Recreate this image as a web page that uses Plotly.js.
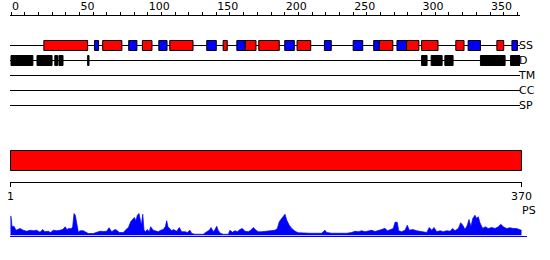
<!DOCTYPE html>
<html>
<head>
<meta charset="utf-8">
<script src="https://cdn.plot.ly/plotly-3.0.1.min.js"></script>
<style>html,body{margin:0;padding:0;background:#fff}#chart{width:550px;height:260px}</style>
</head>
<body>
<div id="chart"></div>
<script>
// ---- data ----
var trackNames = ['SS', 'D', 'TM', 'CC', 'SP'];
var seqLength = 370;

// secondary structure: helices (red) and strands (blue), residue ranges
var helixStart = [24, 67, 96, 116, 155, 171, 181, 209, 269, 289, 300, 325, 355];
var helixEnd   = [56, 81, 103, 133, 158, 179, 196, 219, 279, 298, 312, 331, 360];
var strandStart = [61, 86, 108, 143, 165, 200, 229, 250, 265, 282, 334, 366];
var strandEnd   = [64, 92, 114, 150, 171, 207, 234, 257, 269, 289, 343, 370];

// disorder regions (black)
var disStart = [0, 19, 32, 35, 56, 300, 307, 317, 343, 365];
var disEnd   = [16, 30, 34, 38, 57, 304, 315, 323, 361, 372];

// top ruler ticks
var topTickVals = [0,10,20,30,40,50,60,70,80,90,100,110,120,130,140,150,160,170,180,190,200,210,220,230,240,250,260,270,280,290,300,310,320,330,340,350,360,370];
var topTickText = ['0','','','','','50','','','','','100','','','','','150','','','','','200','','','','','250','','','','','300','','','','','350','',''];

// bottom ruler ticks
var bottomTickVals = [1, 370];
var bottomTickText = ['1', '370'];

// PS profile (residue, score)
var psPos = [1,1.4,2.1,3.5,5,6.6,7.9,10.2,12.7,15.1,17.5,19.9,22.3,24.3,25.9,28.3,30,31.9,34.4,36.8,38.7,40.6,41.6,43.2,44.9,45.9,46.9,47.8,48.8,50,51.2,53.6,55.5,57.2,60.8,63.3,65.6,68,70.5,72.1,74.1,76.5,77.7,79.6,82.5,84.4,86.1,87.8,89.3,90.4,91.6,92.6,93.8,94.5,95.5,96.5,97.4,98.6,99.8,101.2,102.2,104.1,106.1,107.7,109.5,111.3,112.8,113.8,114.7,116.2,117.4,118.6,121,122.9,124.6,127,128.7,130.6,131.9,134.2,137.8,140.2,142.7,144.6,145.8,147.5,148.7,149.9,151.1,152.8,154.7,158.3,159.5,161.2,163.1,164.8,166.7,168.4,170.3,172.7,174.5,176.3,178.3,179.9,182.4,184.8,187.2,189.6,192,193.7,195.1,196.8,199.2,200.5,202.3,204.1,206.5,208.8,212.4,217.3,222.1,225.7,228.1,229.3,233,236.6,240.2,243.8,247.4,249.8,252.2,254.6,257,259.4,261.8,264.2,266.6,269.1,271.4,273.1,275.6,277.4,278.7,280.3,281.3,283.5,285.9,287.5,289,291.4,294.3,297.9,301.6,303.4,305.2,306.8,308.8,311.2,313.5,316,318.4,320.3,322,324.4,326.1,327.6,329.2,330.9,332.1,333.5,334.8,336.4,337.7,338.8,340,342,343.7,346,348.5,350.9,353.3,355,356.9,359.3,361.7,364.1,366.5,368.4,370];
var psVal = [0.77,0.77,0.35,0.37,0.21,0.24,0.28,0.21,0.17,0.21,0.19,0.21,0.13,0.24,0.15,0.17,0.12,0.21,0.19,0.21,0.24,0.35,0.24,0.28,0.27,0.35,0.88,0.81,0.41,0.13,0.19,0.19,0.13,0.08,0.08,0.13,0.17,0.16,0.17,0.31,0.15,0.24,0.21,0.12,0.12,0.24,0.31,0.55,0.68,0.72,0.59,0.81,0.88,0.68,0.41,0.85,0.21,0.15,0.24,0.15,0.35,0.21,0.19,0.15,0.21,0.24,0.35,0.59,0.35,0.24,0.19,0.24,0.17,0.32,0.15,0.15,0.12,0.21,0.08,0.05,0.05,0.05,0.15,0.21,0.32,0.15,0.24,0.37,0.19,0.08,0.05,0.05,0.21,0.13,0.19,0.15,0.24,0.28,0.17,0.15,0.21,0.32,0.21,0.15,0.15,0.17,0.19,0.21,0.21,0.28,0.55,0.68,0.85,0.61,0.41,0.28,0.17,0.11,0.09,0.09,0.09,0.09,0.21,0.12,0.09,0.08,0.08,0.09,0.12,0.17,0.15,0.19,0.15,0.17,0.21,0.16,0.19,0.24,0.29,0.19,0.24,0.28,0.53,0.53,0.19,0.15,0.21,0.41,0.21,0.24,0.19,0.15,0.12,0.32,0.21,0.32,0.15,0.19,0.15,0.19,0.17,0.28,0.19,0.28,0.51,0.41,0.24,0.41,0.64,0.35,0.68,0.81,0.68,0.75,0.51,0.28,0.35,0.28,0.32,0.28,0.35,0.45,0.35,0.28,0.31,0.28,0.28,0.24,0.21];

// ---- build ----
function lens(s, e) { return s.map(function (v, i) { return e[i] - v; }); }
function fill(n, v) { var a = []; for (var i = 0; i < n; i++) a.push(v); return a; }

var FONT = 'DejaVu Sans, Verdana, sans-serif';
var outline = {color: '#000', width: 1};

var traces = [
  {type: 'bar', orientation: 'h', xaxis: 'x', yaxis: 'y',
   base: helixStart, x: lens(helixStart, helixEnd), y: fill(helixStart.length, 0),
   width: 0.667, marker: {color: '#ff0000', line: outline}, hoverinfo: 'skip'},
  {type: 'bar', orientation: 'h', xaxis: 'x', yaxis: 'y',
   base: strandStart, x: lens(strandStart, strandEnd), y: fill(strandStart.length, 0),
   width: 0.667, marker: {color: '#0000ff', line: outline}, hoverinfo: 'skip'},
  {type: 'bar', orientation: 'h', xaxis: 'x', yaxis: 'y',
   base: disStart, x: lens(disStart, disEnd), y: fill(disStart.length, 1),
   width: 0.667, marker: {color: '#000000', line: outline}, hoverinfo: 'skip'},
  {type: 'bar', orientation: 'h', xaxis: 'x2', yaxis: 'y2',
   base: [1], x: [seqLength - 1], y: [0],
   width: 1, marker: {color: '#ff0000', line: outline}, hoverinfo: 'skip'},
  {type: 'scatter', mode: 'lines', xaxis: 'x3', yaxis: 'y3',
   x: psPos, y: psVal, fill: 'tozeroy', fillcolor: '#0000ff',
   line: {color: '#0000ff', width: 0.7}, hoverinfo: 'skip'}
];

var shapes = trackNames.map(function (n, i) {
  return {type: 'line', xref: 'x domain', yref: 'y', x0: 0, x1: 1, y0: i, y1: i,
          line: {color: '#000', width: 1}, layer: 'below'};
});

var layout = {
  width: 550, height: 260,
  margin: {l: 10, r: 20, t: 0, b: 0, pad: 0},
  paper_bgcolor: '#fff', plot_bgcolor: 'rgba(0,0,0,0)',
  showlegend: false, barmode: 'overlay',
  font: {family: FONT, size: 11, color: '#000'},
  xaxis: {domain: [0, 0.98077], range: [-0.73, 371.9], anchor: 'y', side: 'top',
          showline: true, linecolor: '#000', linewidth: 1, showgrid: false, zeroline: false,
          ticks: 'outside', ticklen: 3, tickwidth: 1, tickcolor: '#000',
          tickmode: 'array', tickvals: topTickVals, ticktext: topTickText,
          ticklabelposition: 'outside right', tickfont: {family: FONT, size: 11, color: '#000'}},
  yaxis: {domain: [0.53654, 0.94038], range: [5, -2], anchor: 'x', side: 'right',
          showline: false, showgrid: false, zeroline: false, ticks: '',
          tickmode: 'array', tickvals: [0, 1, 2, 3, 4], ticktext: trackNames,
          ticklabelstandoff: -2, tickfont: {family: FONT, size: 11, color: '#000'}},
  xaxis2: {domain: [0, 0.98462], range: [0.639, 370.37], anchor: 'y2', side: 'bottom',
           showline: true, linecolor: '#000', linewidth: 1, showgrid: false, zeroline: false,
           ticks: 'outside', ticklen: 4, tickwidth: 1, tickcolor: '#000',
           tickmode: 'array', tickvals: bottomTickVals, ticktext: bottomTickText,
           tickfont: {family: FONT, size: 11, color: '#000'}},
  yaxis2: {domain: [0.30192, 0.45962], range: [-1.05, 1], anchor: 'x2', visible: false},
  xaxis3: {domain: [0, 0.99423], range: [0.639, 373.98], anchor: 'y3', side: 'bottom',
           showline: true, linecolor: '#0000ff', linewidth: 1, showgrid: false, zeroline: false,
           ticks: '', showticklabels: false},
  yaxis3: {domain: [0.09423, 0.20962], range: [0, 1.2], anchor: 'x3', visible: false},
  shapes: shapes,
  annotations: [{text: 'PS', xref: 'paper', yref: 'paper', x: 0.98077, y: 0.19038,
                 xanchor: 'left', yanchor: 'middle', showarrow: false,
                 font: {family: FONT, size: 11, color: '#000'}}]
};

Plotly.newPlot('chart', traces, layout, {staticPlot: true, displayModeBar: false});
</script>
</body>
</html>
